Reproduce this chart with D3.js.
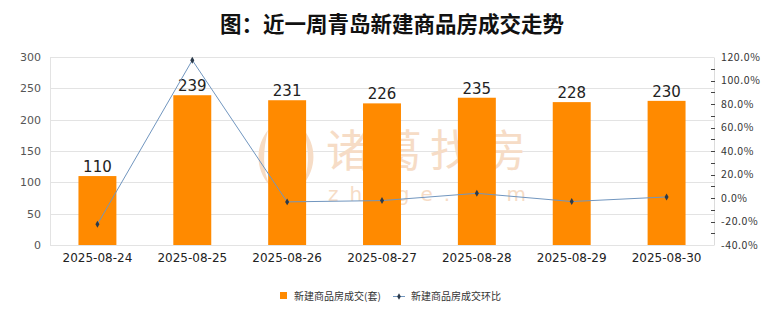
<!DOCTYPE html>
<html><head><meta charset="utf-8">
<script src="https://cdn.jsdelivr.net/npm/d3@7"></script>
<style>
html,body{margin:0;padding:0;background:#fff;}
svg{display:block;font-family:"Noto Sans CJK SC","DejaVu Sans",sans-serif;}
</style></head>
<body><svg id="chart" width="780" height="328"></svg>
<script>
// Weekly new-home transactions in Qingdao
const dates = ["2025-08-24","2025-08-25","2025-08-26","2025-08-27","2025-08-28","2025-08-29","2025-08-30"];
const units = [110, 239, 231, 226, 235, 228, 230];
const changePct = [-22.4, 117.3, -3.3, -2.2, 4.0, -3.0, 0.9];
const leftTicks = [0, 50, 100, 150, 200, 250, 300];
const rightTicks = [-40, -20, 0, 20, 40, 60, 80, 100, 120];

const svg = d3.select("#chart");
const m = {left: 50, right: 714, top: 57, bottom: 245};

const x = d3.scaleBand().domain(dates).range([m.left, m.right]).paddingInner(0.6).paddingOuter(0.3);
const y = d3.scaleLinear().domain([0, 300]).range([m.bottom, m.top]);
const y2 = d3.scaleLinear().domain([-40, 120]).range([m.bottom, m.top]);

// title
svg.append("text").attr("x", 392).attr("y", 32).attr("text-anchor", "middle")
  .attr("font-size", 21.5).attr("font-weight", "bold").attr("fill", "#111")
  .text("图：近一周青岛新建商品房成交走势");

// grid
svg.append("g").selectAll("line").data(leftTicks).join("line")
  .attr("x1", m.left).attr("x2", m.right)
  .attr("y1", d => Math.round(y(d)) + 0.5).attr("y2", d => Math.round(y(d)) + 0.5)
  .attr("stroke", "#e3e3e3");
svg.append("line").attr("x1", m.left + 0.5).attr("x2", m.left + 0.5)
  .attr("y1", m.top).attr("y2", m.bottom).attr("stroke", "#e3e3e3");

// watermark (under the bars)
const wm = svg.append("g").attr("fill", "#f6dcc6");
wm.append("path")
  .attr("d", "M268,130 C256,145 254,168 270,186 C262,170 263,150 268,130 Z M304,130 C316,145 318,168 302,186 C310,170 309,150 304,130 Z M286,140 C276,158 276,175 286,188 C296,175 296,158 286,140 Z");
wm.append("text").attr("x", 326).attr("y", 167).attr("font-size", 44)
  .attr("font-family", "Noto Sans CJK SC, sans-serif").attr("letter-spacing", 8).text("诸葛找房");
wm.append("text").attr("x", 328).attr("y", 201).attr("font-size", 20)
  .attr("font-family", "DejaVu Sans, sans-serif").attr("letter-spacing", 11).text("zhuge.com");

// left axis
const gl = svg.append("g").attr("transform", `translate(${m.left},0)`)
  .call(d3.axisLeft(y).tickValues(leftTicks).tickSize(0).tickPadding(9));
gl.select(".domain").remove();
gl.selectAll("text").attr("font-size", 11).attr("fill", "#555").attr("font-family", "DejaVu Sans, sans-serif");

// right axis with minor ticks
const gr = svg.append("g").attr("transform", `translate(${m.right},0)`)
  .call(d3.axisRight(y2).tickValues(rightTicks).tickSize(0).tickPadding(7)
    .tickFormat(d => d.toFixed(1) + "%"));
gr.select(".domain").attr("stroke", "#dcdcdc");
gr.selectAll("text").attr("font-size", 10.5).attr("fill", "#333")
  .attr("letter-spacing", 0.6).attr("font-family", "Noto Sans CJK JP, sans-serif");
const minor = d3.range(-40, 121, 10);
gr.append("g").selectAll("line").data(minor).join("line")
  .attr("x1", -3).attr("x2", 1)
  .attr("y1", d => Math.round(y2(d)) + 0.5).attr("y2", d => Math.round(y2(d)) + 0.5)
  .attr("stroke", "#444").attr("stroke-width", 1)
  .filter(d => d === 120 || d === -40).remove();

// x axis labels
const gx = svg.append("g").attr("transform", `translate(0,${m.bottom})`)
  .call(d3.axisBottom(x).tickSize(0).tickPadding(8));
gx.select(".domain").remove();
gx.selectAll("text").attr("font-size", 12).attr("fill", "#222").attr("font-family", "DejaVu Sans, sans-serif");

// bars
svg.append("g").selectAll("rect").data(units).join("rect")
  .attr("x", (d, i) => x(dates[i])).attr("width", x.bandwidth())
  .attr("y", d => y(d)).attr("height", d => y(0) - y(d))
  .attr("fill", "#ff8a00");

// value labels
svg.append("g").selectAll("text").data(units).join("text")
  .attr("x", (d, i) => x(dates[i]) + x.bandwidth() / 2).attr("y", d => y(d) - 4)
  .attr("text-anchor", "middle").attr("font-size", 15).attr("fill", "#222")
  .attr("font-family", "DejaVu Sans, sans-serif")
  .text(d => d);

// change line
const line = d3.line().x((d, i) => x(dates[i]) + x.bandwidth() / 2).y(d => y2(d));
svg.append("path").datum(changePct).attr("d", line)
  .attr("fill", "none").attr("stroke", "#7196bf").attr("stroke-width", 1);
svg.append("g").selectAll("path").data(changePct).join("path")
  .attr("transform", (d, i) => `translate(${x(dates[i]) + x.bandwidth() / 2},${y2(d)})`)
  .attr("d", d3.symbol(d3.symbolDiamond, 14)).attr("fill", "#2b3a4a");

// legend
const lg = svg.append("g").attr("font-size", 10).attr("fill", "#333");
lg.append("rect").attr("x", 280).attr("y", 292).attr("width", 7).attr("height", 7).attr("fill", "#ff8a00");
lg.append("text").attr("x", 294).attr("y", 300).text("新建商品房成交(套)");
lg.append("line").attr("x1", 393).attr("x2", 405).attr("y1", 296.5).attr("y2", 296.5).attr("stroke", "#7196bf");
lg.append("path").attr("transform", "translate(399,296.5)").attr("d", d3.symbol(d3.symbolDiamond, 12)).attr("fill", "#2b3a4a");
lg.append("text").attr("x", 411).attr("y", 300).text("新建商品房成交环比");
</script></body></html>
